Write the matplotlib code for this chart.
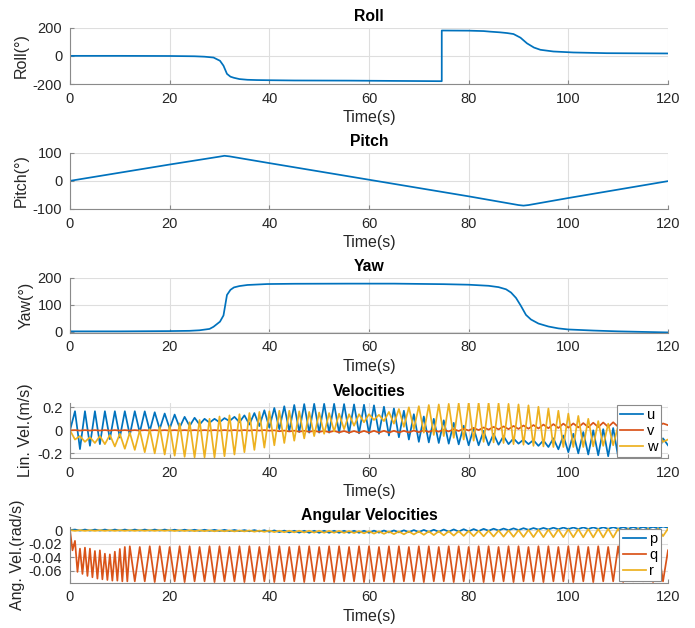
import numpy as np
import matplotlib
matplotlib.use("Agg")
import matplotlib.pyplot as plt

plt.rcParams["font.family"] = ["Liberation Sans", "DejaVu Sans"]
plt.rcParams["axes.unicode_minus"] = False

# ---------------- data ----------------
roll_t = [0, 10, 20, 25, 27, 28.8, 30.1, 30.8, 31.5, 32.2, 32.9, 34, 35.6, 37.5, 39.6, 45, 56, 65, 74.6,
          74.6, 80, 83, 84.3, 86.3, 87.7, 89, 90.4, 91.7, 93.1, 94.4, 97, 101, 107.7, 120]
roll_v = [0, 0, -1, -3, -6, -12, -35, -70, -128, -148, -156, -165, -170, -172, -173, -175, -176, -178, -180,
          180, 179, 176, 172, 167, 162, 155, 129, 89, 59, 43, 31, 24, 19, 17]

pitch_t = [0, 20, 30, 31, 32, 40, 60, 80, 90, 91, 92, 100, 120]
pitch_v = [0, 58, 86, 89, 87, 63, 4, -55, -86, -88, -86, -61, -1]

yaw_t = [0, 10, 20, 24, 26, 28, 28.8, 30.1, 30.8, 31.5, 32.2, 32.9, 34, 35.6, 39.6, 45, 56, 65, 75, 80,
         84, 86, 87.5, 88.5, 89.5, 90.5, 91.5, 92.5, 94, 96, 98, 100, 105, 110, 115, 120]
yaw_v = [1, 1, 2, 3, 5, 10, 18, 37, 60, 136, 155, 164, 169, 173, 176.5, 177.5, 178, 178, 176, 174,
         170, 165, 157, 145, 125, 95, 62, 45, 30, 19, 12, 8, 4, 1, -1, -3]

# linear velocities: one value per second (alternating crest / trough)
t_vel = np.arange(0, 121, 1.0)
u = [0.0,
     0.166, -0.163, 0.166, -0.134, 0.166, -0.12, 0.166, -0.077, 0.166, -0.063,
     0.166, -0.043, 0.166, -0.02, 0.165, -0.006, 0.157, 0.01, 0.146, 0.014,
     0.137, 0.023, 0.117, 0.037, 0.109, 0.05, 0.1, 0.066, 0.1, 0.07,
     0.106, 0.08, 0.117, 0.07, 0.13, 0.05, 0.15, 0.037, 0.174, 0.023,
     0.194, 0.01, 0.209, -0.006, 0.22, -0.015, 0.228, -0.02, 0.23, -0.02,
     0.23, -0.02, 0.23, -0.022, 0.228, -0.024, 0.225, -0.026, 0.222, -0.028,
     0.217, -0.03, 0.205, -0.045, 0.19, -0.06, 0.17, -0.08, 0.14, -0.1,
     0.12, -0.105, 0.1, -0.11, 0.087, -0.116, 0.065, -0.122, 0.04, -0.13,
     0.02, -0.13, -0.005, -0.13, -0.03, -0.125, -0.05, -0.12, -0.07, -0.116,
     -0.08, -0.12, -0.085, -0.135, -0.087, -0.145, -0.07, -0.165, -0.045, -0.19,
     -0.03, -0.2, -0.015, -0.21, 0.0, -0.217, 0.01, -0.225, 0.02, -0.23,
     0.025, -0.232, 0.025, -0.23, 0.02, -0.225, 0.01, -0.21, -0.07, -0.13]
v = [0.0,
     0.002, -0.002, 0.002, -0.002, 0.002, -0.002, 0.002, -0.002, 0.002, -0.002,
     0.002, -0.002, 0.002, -0.002, 0.002, -0.002, 0.002, -0.002, 0.002, -0.002,
     0.002, -0.002, 0.002, -0.002, 0.002, -0.002, 0.002, -0.002, 0.002, -0.002,
     0.002, -0.002, 0.002, -0.002, 0.002, -0.002, 0.002, -0.002, 0.002, -0.003,
     0.0, -0.008, -0.002, -0.01, -0.003, -0.012, -0.004, -0.013, -0.004, -0.014,
     -0.005, -0.016, -0.005, -0.018, -0.006, -0.02, -0.006, -0.02, -0.005, -0.02,
     -0.004, -0.02, -0.004, -0.02, -0.004, -0.019, -0.004, -0.018, -0.002, -0.016,
     0.0, -0.014, 0.002, -0.012, 0.006, -0.01, 0.01, -0.006, 0.014, -0.002,
     0.02, 0.002, 0.025, 0.006, 0.03, 0.008, 0.034, 0.01, 0.038, 0.012,
     0.042, 0.014, 0.046, 0.016, 0.05, 0.018, 0.054, 0.02, 0.058, 0.023,
     0.06, 0.025, 0.063, 0.027, 0.066, 0.028, 0.068, 0.029, 0.07, 0.03,
     0.07, 0.03, 0.068, 0.03, 0.066, 0.03, 0.064, 0.032, 0.06, 0.045]
w = [0.0,
     -0.08, -0.05, -0.1, -0.06, -0.11, -0.05, -0.12, -0.04, -0.14, -0.03,
     -0.16, -0.02, -0.17, 0.0, -0.19, 0.01, -0.2, 0.03, -0.21, 0.04,
     -0.22, 0.06, -0.23, 0.07, -0.235, 0.09, -0.235, 0.1, -0.235, 0.12,
     -0.225, 0.13, -0.21, 0.14, -0.19, 0.15, -0.17, 0.16, -0.15, 0.165,
     -0.13, 0.17, -0.11, 0.17, -0.09, 0.165, -0.07, 0.16, -0.05, 0.155,
     -0.03, 0.15, -0.01, 0.145, 0.01, 0.14, 0.04, 0.14, 0.07, 0.14,
     0.09, 0.135, 0.08, 0.16, 0.058, 0.185, 0.03, 0.2, 0.01, 0.21,
     -0.02, 0.22, -0.04, 0.225, -0.05, 0.23, -0.065, 0.235, -0.08, 0.24,
     -0.09, 0.24, -0.1, 0.24, -0.105, 0.235, -0.11, 0.23, -0.12, 0.225,
     -0.125, 0.217, -0.135, 0.205, -0.14, 0.19, -0.145, 0.17, -0.145, 0.145,
     -0.145, 0.125, -0.145, 0.1, -0.14, 0.08, -0.135, 0.058, -0.13, 0.04,
     -0.12, 0.02, -0.11, 0.01, -0.1, 0.0, -0.1, -0.01, -0.1, -0.08]

# angular velocities
p = [0.0,
     0.0008, -0.0008, 0.0008, -0.0008, 0.0008, -0.0008, 0.0008, -0.0008, 0.0008, -0.0008,
     0.0008, -0.0008, 0.0008, -0.0008, 0.0008, -0.0008, 0.0008, -0.0008, 0.0008, -0.0008,
     0.0006, -0.001, 0.0006, -0.001, 0.0005, -0.0012, 0.0005, -0.0012, 0.0004, -0.0014,
     0.0004, -0.0015, 0.0002, -0.0016, 0.0, -0.0018, 0.0, -0.002, -0.0002, -0.0025,
     -0.0005, -0.003, -0.0008, -0.0035, -0.001, -0.0038, -0.001, -0.004, -0.001, -0.004,
     -0.001, -0.004, -0.001, -0.004, -0.001, -0.004, -0.001, -0.004, -0.001, -0.004,
     -0.0008, -0.0038, -0.0006, -0.0035, -0.0005, -0.0034, -0.0003, -0.0032, 0.0, -0.003,
     0.0002, -0.0028, 0.0005, -0.0026, 0.0008, -0.0024, 0.001, -0.0022, 0.0013, -0.002,
     0.0015, -0.0015, 0.0018, -0.001, 0.002, -0.0006, 0.0022, -0.0002, 0.0025, 0.0,
     0.0028, 0.0004, 0.003, 0.0008, 0.0032, 0.001, 0.0035, 0.0012, 0.0037, 0.0014,
     0.0038, 0.0015, 0.004, 0.0016, 0.004, 0.0017, 0.0042, 0.0018, 0.0043, 0.002,
     0.0044, 0.002, 0.0045, 0.0022, 0.0046, 0.0023, 0.0048, 0.0025, 0.0052, 0.0035]
r = [0.0,
     -0.0012, -0.0002, -0.0012, -0.0002, -0.0012, -0.0002, -0.0012, -0.0002, -0.0012, -0.0002,
     -0.0012, -0.0002, -0.0012, -0.0002, -0.0012, -0.0002, -0.0012, -0.0002, -0.0012, -0.0002,
     -0.0014, -0.0003, -0.0014, -0.0003, -0.0016, -0.0004, -0.0016, -0.0004, -0.0018, -0.0005,
     -0.0018, -0.0005, -0.002, -0.0006, -0.002, -0.0006, -0.0024, -0.0008, -0.0026, -0.0008,
     -0.003, -0.001, -0.0032, -0.001, -0.0034, -0.001, -0.0036, -0.001, -0.0038, -0.001,
     -0.004, -0.0012, -0.004, -0.0012, -0.0042, -0.0014, -0.0044, -0.0015, -0.0048, -0.0016,
     -0.0052, -0.0018, -0.0056, -0.002, -0.006, -0.002, -0.0063, -0.002, -0.0065, -0.002,
     -0.007, -0.0018, -0.0074, -0.0017, -0.0078, -0.0016, -0.0082, -0.0015, -0.0086, -0.0012,
     -0.009, -0.001, -0.0093, -0.0008, -0.0096, -0.0006, -0.0098, -0.0004, -0.01, 0.0,
     -0.0102, 0.0004, -0.0104, 0.0006, -0.0105, 0.0008, -0.0105, 0.001, -0.0105, 0.0012,
     -0.0106, 0.0014, -0.0107, 0.0016, -0.0108, 0.0018, -0.0109, 0.002, -0.011, 0.002,
     -0.011, 0.002, -0.011, 0.0022, -0.011, 0.0022, -0.0108, 0.0022, -0.009, 0.002]

# q: half-second crests/troughs for the first 12 s, then one crest every 2 s
t_q = np.concatenate([np.arange(0, 12, 0.5), np.arange(12, 121, 1.0)])
q = [0.0, -0.03, -0.016, -0.062, -0.0275, -0.065, -0.026, -0.068, -0.0275, -0.07, -0.031, -0.072,
     -0.03, -0.073, -0.035, -0.074, -0.036, -0.075, -0.032, -0.075, -0.028, -0.076, -0.025, -0.076,
     -0.024, -0.076, -0.025, -0.076, -0.024, -0.077, -0.024, -0.076, -0.025, -0.076,
     -0.024, -0.077, -0.024, -0.076, -0.025, -0.076, -0.024, -0.077, -0.024, -0.076,
     -0.025, -0.076, -0.024, -0.077, -0.024, -0.076, -0.025, -0.076, -0.024, -0.077,
     -0.024, -0.076, -0.025, -0.076, -0.024, -0.077, -0.024, -0.076, -0.025, -0.076,
     -0.024, -0.077, -0.024, -0.076, -0.025, -0.076, -0.024, -0.077, -0.024, -0.076,
     -0.025, -0.076, -0.024, -0.077, -0.024, -0.076, -0.025, -0.076, -0.024, -0.077,
     -0.024, -0.076, -0.025, -0.076, -0.024, -0.077, -0.024, -0.076, -0.025, -0.076,
     -0.024, -0.077, -0.024, -0.076, -0.025, -0.076, -0.024, -0.077, -0.024, -0.076,
     -0.025, -0.076, -0.024, -0.077, -0.024, -0.076, -0.025, -0.076, -0.024, -0.077,
     -0.024, -0.076, -0.025, -0.077, -0.024, -0.076, -0.025, -0.076, -0.024, -0.077,
     -0.024, -0.076, -0.025, -0.076, -0.024, -0.077, -0.025, -0.076, -0.03]

# ---------------- figure ----------------
C_BLUE, C_RED, C_YEL = "#0072BD", "#D95319", "#EDB120"
FW, FH = 695, 628
fig = plt.figure(figsize=(FW / 100, FH / 100), dpi=100)


def make_ax(top, bottom):
    ax = fig.add_axes([70 / FW, 1 - bottom / FH, 598 / FW, (bottom - top) / FH])
    ax.set_xlim(0, 120)
    ax.set_xticks([0, 20, 40, 60, 80, 100, 120])
    ax.grid(True, color="#dedede", linewidth=0.8)
    ax.set_axisbelow(True)
    for s in ["top", "right"]:
        ax.spines[s].set_visible(False)
    for s in ["left", "bottom"]:
        ax.spines[s].set_color("#8a8a8a")
        ax.spines[s].set_linewidth(0.8)
    ax.tick_params(direction="in", length=3, width=0.8, color="#8a8a8a",
                   labelsize=10.5, labelcolor="#262626", pad=5.5)
    ax.set_xlabel("Time(s)", fontsize=11.5, color="#262626", labelpad=3)
    return ax


def finish(ax, title, ylabel):
    ax.set_title(title, fontsize=11.3, fontweight="bold", pad=4.5)
    ax.set_ylabel(ylabel, fontsize=11.5, color="#262626", labelpad=3)


lw = 1.25
kw = dict(lw=lw, solid_joinstyle="round")

ax1 = make_ax(27.7, 84)
ax1.plot(roll_t, roll_v, color=C_BLUE, **kw)
ax1.set_ylim(-200, 200)
ax1.set_yticks([-200, 0, 200])
finish(ax1, "Roll", "Roll(°)")

ax2 = make_ax(152.7, 209)
ax2.plot(pitch_t, pitch_v, color=C_BLUE, **kw)
ax2.set_ylim(-100, 100)
ax2.set_yticks([-100, 0, 100])
finish(ax2, "Pitch", "Pitch(°)")

ax3 = make_ax(277.7, 332.7)
ax3.plot(yaw_t, yaw_v, color=C_BLUE, **kw)
ax3.set_ylim(-4, 200)
ax3.set_yticks([0, 100, 200])
finish(ax3, "Yaw", "Yaw(°)")

ax4 = make_ax(402.7, 458.3)
ax4.plot(t_vel, u, color=C_BLUE, label="u", **kw)
ax4.plot(t_vel, v, color=C_RED, label="v", **kw)
ax4.plot(t_vel, w, color=C_YEL, label="w", **kw)
ax4.set_ylim(-0.243, 0.24)
ax4.set_yticks([-0.2, 0, 0.2])
ax4.set_yticklabels(["-0.2", "0", "0.2"])
finish(ax4, "Velocities", "Lin. Vel.(m/s)")

ax5 = make_ax(526.7, 582.7)
ax5.plot(t_vel, p, color=C_BLUE, label="p", **kw)
ax5.plot(t_q, q, color=C_RED, label="q", **kw)
ax5.plot(t_vel, r, color=C_YEL, label="r", **kw)
ax5.set_ylim(-0.078, 0.005)
ax5.set_yticks([-0.06, -0.04, -0.02, 0])
ax5.set_yticklabels(["-0.06", "-0.04", "-0.02", "0"])
finish(ax5, "Angular Velocities", "Ang. Vel.(rad/s)")

for ax in (ax4, ax5):
    leg = ax.legend(loc="upper right", bbox_to_anchor=(1 - 7 / 598, 1 - 2 / 56),
                    borderaxespad=0, fontsize=10.5, handlelength=1.55,
                    handletextpad=0.25, labelspacing=0.12, borderpad=0.25,
                    fancybox=False, framealpha=1)
    leg.get_frame().set_edgecolor("#8a8a8a")
    leg.get_frame().set_linewidth(0.8)

fig.savefig("out.png", dpi=100)
